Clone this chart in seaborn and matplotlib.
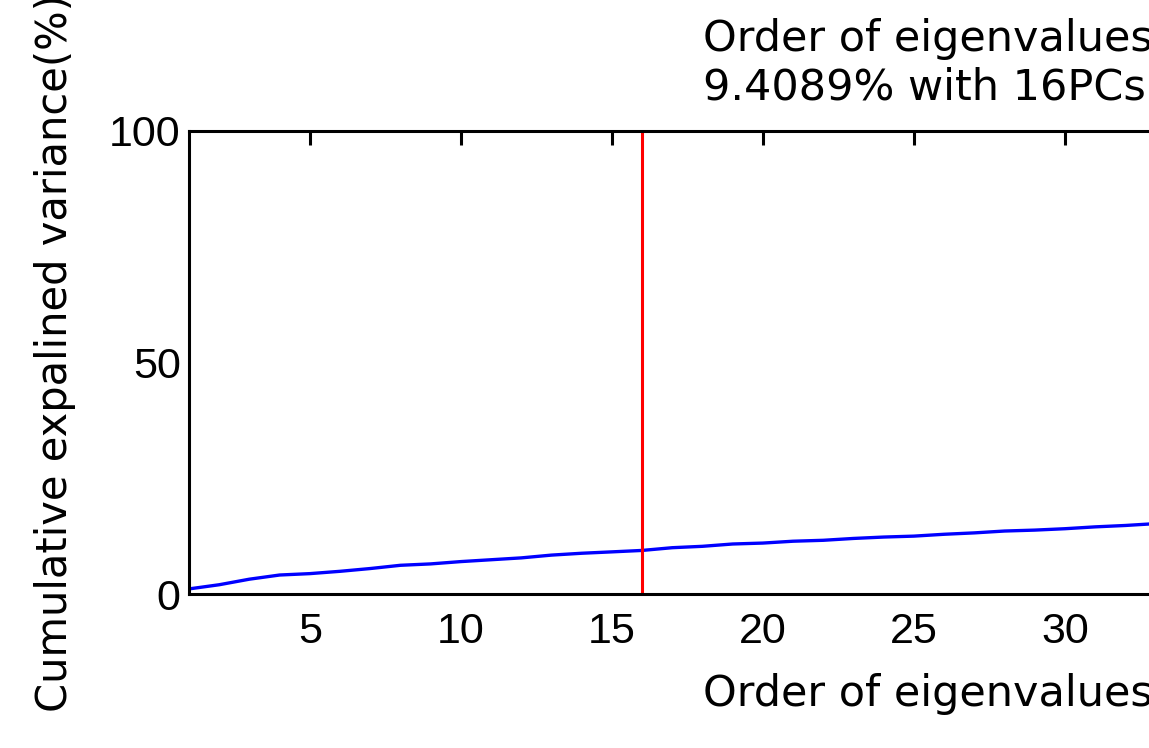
import matplotlib
matplotlib.use("Agg")
import matplotlib.pyplot as plt
import seaborn as sns
import pandas as pd
from matplotlib import font_manager as fm

# ---- data ----
order = list(range(1, 34))
cum_var = [1.1, 2.0, 3.2, 4.1, 4.4, 4.9, 5.5, 6.2, 6.5, 7.0,
           7.4, 7.8, 8.4, 8.8, 9.1, 9.4089, 10.0, 10.3, 10.8, 11.0,
           11.4, 11.6, 12.0, 12.3, 12.5, 12.9, 13.2, 13.6, 13.8, 14.1,
           14.5, 14.8, 15.2]
n_pcs = 16
x_ticks = [5, 10, 15, 20, 25, 30]
y_ticks = [0, 50, 100]
title_lines = ["Order of eigenvalues", "9.4089% with 16PCs"]
xlabel = "Order of eigenvalues"
ylabel = "Cumulative expalined variance(%)"

sns.set_style("white")
plt.rcParams['font.family'] = ['DejaVu Sans']
plt.rcParams['text.color'] = 'black'

names = {f.name for f in fm.fontManager.ttflist}
tick_font = 'Liberation Sans Narrow' if 'Liberation Sans Narrow' in names else 'Liberation Sans'

W, H = 1149, 748
fig = plt.figure(figsize=(W / 100, H / 100), dpi=100)
ax_left, ax_right, ax_top, ax_bot = 189, 1669, 131, 594
ax = fig.add_axes([ax_left / W, 1 - ax_bot / H, (ax_right - ax_left) / W, (ax_bot - ax_top) / H])

df = pd.DataFrame({"order": order, "cum": cum_var})
sns.lineplot(data=df, x="order", y="cum", ax=ax, color=(0, 0, 1), linewidth=2.4)
ax.axvline(n_pcs, color=(1, 0, 0), linewidth=2.2)

ax.set_xlim(1, 50)
ax.set_ylim(0, 100)
ax.set_xticks(x_ticks)
ax.set_yticks(y_ticks)
ax.set_xlabel("")
ax.set_ylabel("")

for s in ax.spines.values():
    s.set_linewidth(2.2)
    s.set_color('black')
ax.tick_params(axis='both', direction='in', length=10, width=2.2, color='black',
               labelsize=31, labelcolor='black', top=True, right=True)
ax.tick_params(axis='x', pad=13)
ax.tick_params(axis='y', pad=6)
for lab in ax.get_xticklabels() + ax.get_yticklabels():
    lab.set_fontfamily(tick_font)

fs = 31
px = lambda x, y: (x / W, 1 - y / H)
fig.text(*px(703, 51), title_lines[0], fontsize=fs, ha='left', va='baseline', color='black')
fig.text(*px(703, 99), title_lines[1], fontsize=fs, ha='left', va='baseline', color='black')
fig.text(*px(703, 706), xlabel, fontsize=fs, ha='left', va='baseline', color='black')
fig.text(*px(67, 712), ylabel, fontsize=30, ha='left', va='baseline', color='black',
         rotation=90, rotation_mode='anchor')

fig.savefig("out.png", dpi=100)
